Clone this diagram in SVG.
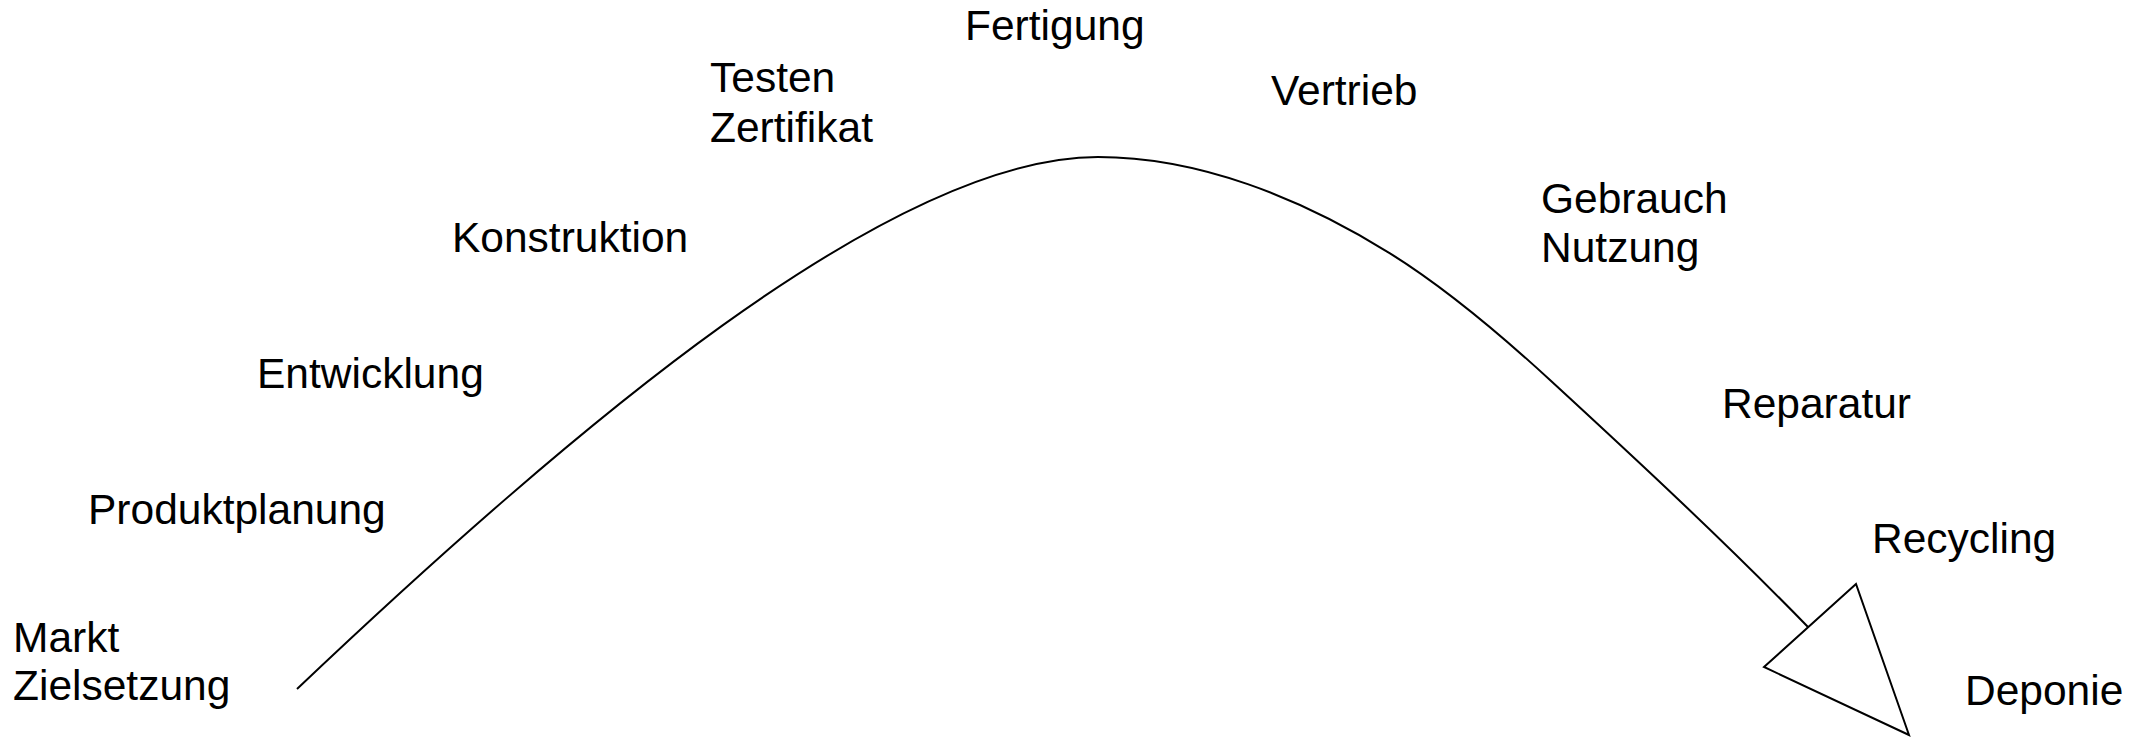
<svg xmlns="http://www.w3.org/2000/svg" width="2152" height="739" viewBox="0 0 2152 739">
<style>
text{font-family:"Liberation Sans",Arial,sans-serif;font-size:42.5px;fill:#000}
.c{fill:none;stroke:#000;stroke-width:2}
.h{fill:#fff;stroke:#000;stroke-width:2;stroke-linejoin:miter}
</style>
<rect width="2152" height="739" fill="#fff"/>
<g id="connectors">
<path class="c" d="M297,689 C570,430 890,157 1098,157 C1198,157 1300,197.3 1390,253.3 C1447.7,289.3 1500,334 1550,380 C1637.6,460.6 1725,541.7 1808,627"/>
<polygon class="h" points="1856,584 1764,667 1909,735"/>
</g>
<g id="n-markt"><text x="13" y="652">Markt</text><text x="13" y="700">Zielsetzung</text></g>
<g id="n-produktplanung"><text x="88" y="524">Produktplanung</text></g>
<g id="n-entwicklung"><text x="257" y="388">Entwicklung</text></g>
<g id="n-konstruktion"><text x="452" y="252">Konstruktion</text></g>
<g id="n-testen"><text x="710" y="92">Testen</text><text x="710" y="142">Zertifikat</text></g>
<g id="n-fertigung"><text x="965" y="40">Fertigung</text></g>
<g id="n-vertrieb"><text x="1271" y="105">Vertrieb</text></g>
<g id="n-gebrauch"><text x="1541" y="213">Gebrauch</text><text x="1541" y="262">Nutzung</text></g>
<g id="n-reparatur"><text x="1722" y="418">Reparatur</text></g>
<g id="n-recycling"><text x="1872" y="553">Recycling</text></g>
<g id="n-deponie"><text x="1965" y="705">Deponie</text></g>
</svg>
